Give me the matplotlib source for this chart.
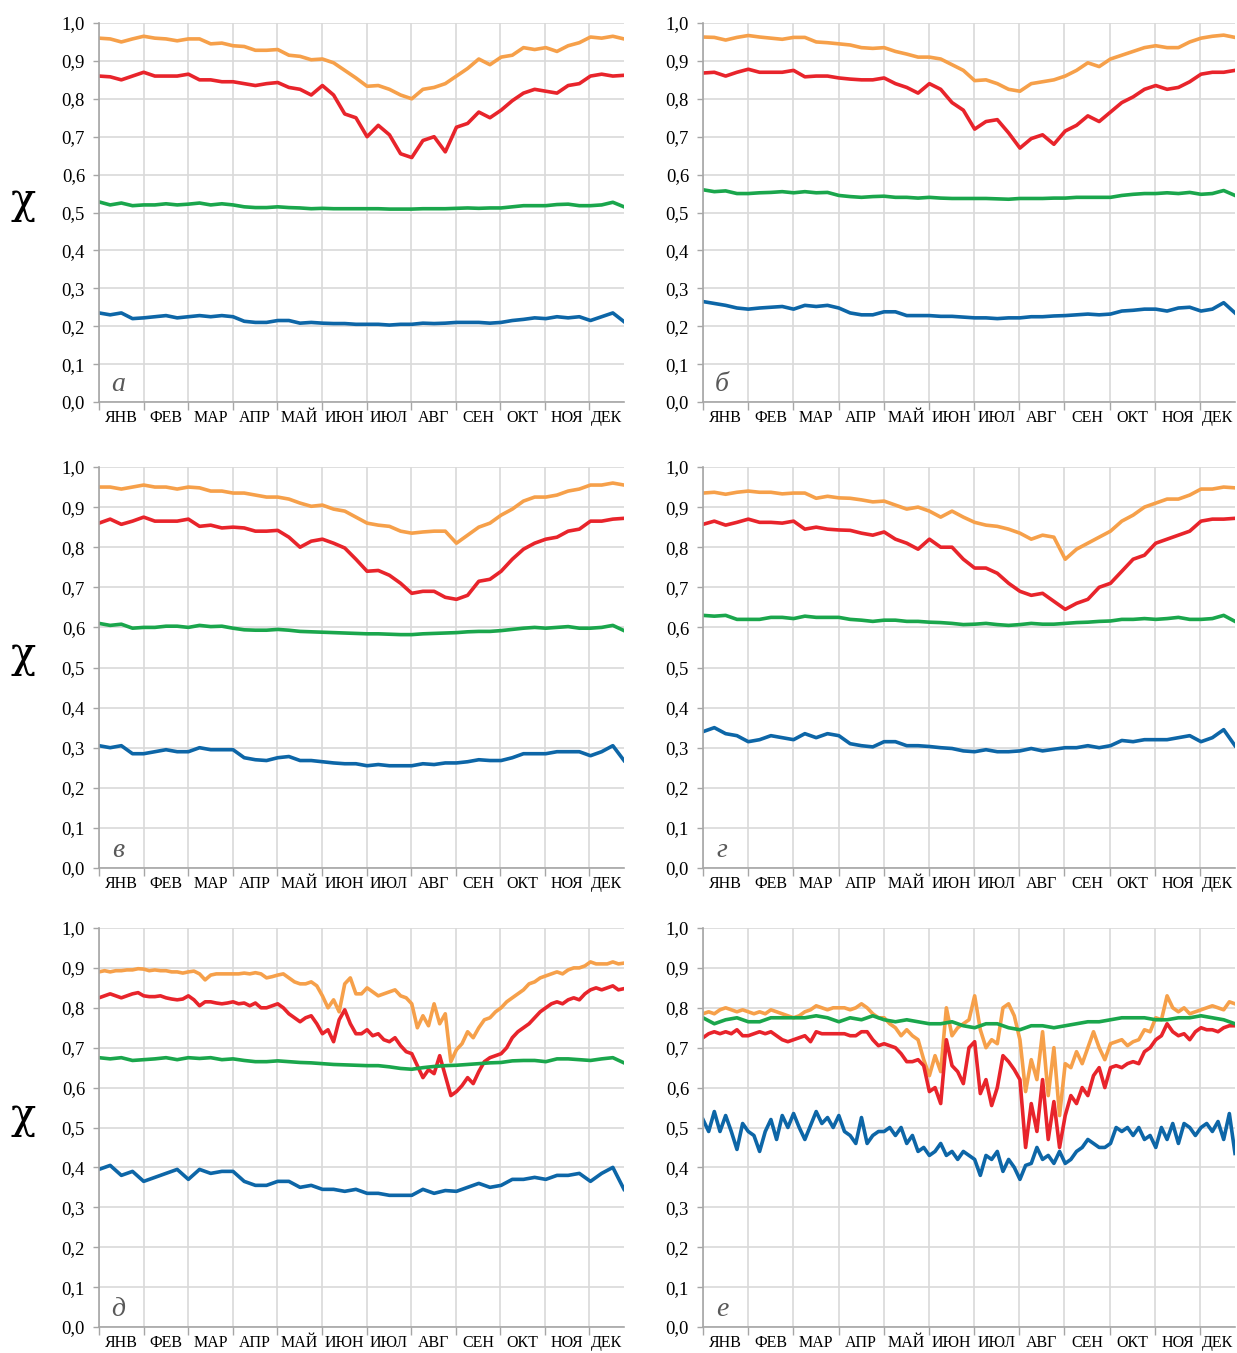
import numpy as np
import matplotlib
matplotlib.use("Agg")
import matplotlib.pyplot as plt
from matplotlib.ticker import FixedLocator, FuncFormatter

plt.rcParams["font.family"] = ["Liberation Serif", "DejaVu Serif"]

# month labels, 31-day steps as in the source chart
months = ["ЯНВ", "ФЕВ", "МАР", "АПР", "МАЙ", "ИЮН", "ИЮЛ", "АВГ", "СЕН", "ОКТ", "НОЯ", "ДЕК"]
year_len = 365

# --- panel а (4 values per month) ---
a_orange = [0.960, 0.958, 0.950, 0.958, 0.965, 0.960, 0.958, 0.953, 0.958, 0.958, 0.945, 0.947,
            0.940, 0.938, 0.928, 0.928, 0.930, 0.915, 0.912, 0.903, 0.905, 0.895, 0.875, 0.855,
            0.833, 0.835, 0.825, 0.810, 0.800, 0.825, 0.830, 0.840, 0.860, 0.880, 0.905, 0.890,
            0.910, 0.915, 0.935, 0.930, 0.935, 0.925, 0.940, 0.948, 0.963, 0.960, 0.965, 0.958]
a_red = [0.860, 0.858, 0.850, 0.860, 0.870, 0.860, 0.860, 0.860, 0.865, 0.850, 0.850, 0.845,
         0.845, 0.840, 0.835, 0.840, 0.843, 0.830, 0.825, 0.810, 0.835, 0.810, 0.760, 0.750,
         0.700, 0.730, 0.705, 0.655, 0.645, 0.690, 0.700, 0.660, 0.725, 0.735, 0.765, 0.750,
         0.770, 0.795, 0.815, 0.825, 0.820, 0.815, 0.835, 0.840, 0.860, 0.865, 0.860, 0.862]
a_green = [0.528, 0.520, 0.525, 0.518, 0.520, 0.520, 0.523, 0.520, 0.522, 0.525, 0.520, 0.523,
           0.520, 0.515, 0.513, 0.513, 0.515, 0.513, 0.512, 0.510, 0.511, 0.510, 0.510, 0.510,
           0.510, 0.510, 0.509, 0.509, 0.509, 0.510, 0.510, 0.510, 0.511, 0.512, 0.511, 0.512,
           0.512, 0.515, 0.518, 0.518, 0.518, 0.521, 0.522, 0.518, 0.518, 0.520, 0.527, 0.515]
a_blue = [0.235, 0.230, 0.235, 0.220, 0.222, 0.225, 0.228, 0.222, 0.225, 0.228, 0.225, 0.228,
          0.225, 0.213, 0.210, 0.210, 0.215, 0.215, 0.208, 0.210, 0.208, 0.207, 0.207, 0.205,
          0.205, 0.205, 0.203, 0.205, 0.205, 0.208, 0.207, 0.208, 0.210, 0.210, 0.210, 0.208,
          0.210, 0.215, 0.218, 0.222, 0.220, 0.225, 0.222, 0.225, 0.215, 0.225, 0.235, 0.212]

# --- panel б ---
b_orange = [0.963, 0.962, 0.955, 0.962, 0.967, 0.963, 0.960, 0.957, 0.962, 0.962, 0.950, 0.948,
            0.945, 0.942, 0.935, 0.933, 0.935, 0.925, 0.918, 0.910, 0.910, 0.905, 0.890, 0.875,
            0.848, 0.850, 0.840, 0.825, 0.820, 0.840, 0.845, 0.850, 0.860, 0.875, 0.895, 0.885,
            0.905, 0.915, 0.925, 0.935, 0.940, 0.935, 0.935, 0.950, 0.960, 0.965, 0.968, 0.962]
b_red = [0.868, 0.870, 0.860, 0.870, 0.878, 0.870, 0.870, 0.870, 0.875, 0.858, 0.860, 0.860,
         0.855, 0.852, 0.850, 0.850, 0.855, 0.840, 0.830, 0.815, 0.840, 0.825, 0.790, 0.770,
         0.720, 0.740, 0.745, 0.710, 0.670, 0.695, 0.705, 0.680, 0.715, 0.730, 0.755, 0.740,
         0.765, 0.790, 0.805, 0.825, 0.835, 0.825, 0.830, 0.845, 0.865, 0.870, 0.870, 0.875]
b_green = [0.560, 0.555, 0.557, 0.550, 0.550, 0.552, 0.553, 0.555, 0.552, 0.555, 0.552, 0.553,
           0.545, 0.542, 0.540, 0.542, 0.543, 0.540, 0.540, 0.538, 0.540, 0.538, 0.537, 0.537,
           0.537, 0.537, 0.536, 0.535, 0.537, 0.537, 0.537, 0.538, 0.538, 0.540, 0.540, 0.540,
           0.540, 0.545, 0.548, 0.550, 0.550, 0.552, 0.550, 0.553, 0.548, 0.550, 0.558, 0.545]
b_blue = [0.265, 0.260, 0.255, 0.248, 0.245, 0.248, 0.250, 0.252, 0.245, 0.255, 0.252, 0.255,
          0.248, 0.235, 0.230, 0.230, 0.238, 0.238, 0.228, 0.228, 0.228, 0.226, 0.226, 0.224,
          0.222, 0.222, 0.220, 0.222, 0.222, 0.225, 0.225, 0.227, 0.228, 0.230, 0.232, 0.230,
          0.232, 0.240, 0.242, 0.245, 0.245, 0.240, 0.248, 0.250, 0.240, 0.245, 0.262, 0.235]

# --- panel в ---
v_orange = [0.950, 0.950, 0.945, 0.950, 0.955, 0.950, 0.950, 0.945, 0.950, 0.948, 0.940, 0.940,
            0.935, 0.935, 0.930, 0.925, 0.925, 0.920, 0.910, 0.902, 0.905, 0.895, 0.890, 0.875,
            0.860, 0.855, 0.852, 0.840, 0.835, 0.838, 0.840, 0.840, 0.810, 0.830, 0.850, 0.860,
            0.880, 0.895, 0.915, 0.925, 0.925, 0.930, 0.940, 0.945, 0.955, 0.955, 0.960, 0.955]
v_red = [0.860, 0.870, 0.857, 0.865, 0.875, 0.865, 0.865, 0.865, 0.870, 0.852, 0.855, 0.848,
         0.850, 0.848, 0.840, 0.840, 0.842, 0.825, 0.800, 0.815, 0.820, 0.810, 0.798, 0.770,
         0.740, 0.742, 0.730, 0.710, 0.685, 0.690, 0.690, 0.675, 0.670, 0.680, 0.715, 0.720,
         0.740, 0.770, 0.795, 0.810, 0.820, 0.825, 0.840, 0.845, 0.865, 0.865, 0.870, 0.872]
v_green = [0.610, 0.605, 0.608, 0.598, 0.600, 0.600, 0.603, 0.603, 0.600, 0.605, 0.602, 0.603,
           0.598, 0.594, 0.593, 0.593, 0.595, 0.593, 0.590, 0.589, 0.588, 0.587, 0.586, 0.585,
           0.584, 0.584, 0.583, 0.582, 0.582, 0.584, 0.585, 0.586, 0.587, 0.589, 0.590, 0.590,
           0.592, 0.595, 0.598, 0.600, 0.598, 0.600, 0.602, 0.598, 0.598, 0.600, 0.605, 0.592]
v_blue = [0.305, 0.300, 0.305, 0.285, 0.285, 0.290, 0.295, 0.290, 0.290, 0.300, 0.295, 0.295,
          0.295, 0.275, 0.270, 0.268, 0.275, 0.278, 0.268, 0.268, 0.265, 0.262, 0.260, 0.260,
          0.255, 0.258, 0.255, 0.255, 0.255, 0.260, 0.258, 0.262, 0.262, 0.265, 0.270, 0.268,
          0.268, 0.275, 0.285, 0.285, 0.285, 0.290, 0.290, 0.290, 0.280, 0.290, 0.305, 0.268]

# --- panel г ---
g_orange = [0.935, 0.937, 0.932, 0.937, 0.940, 0.937, 0.937, 0.933, 0.935, 0.935, 0.922, 0.927,
            0.923, 0.922, 0.918, 0.913, 0.915, 0.905, 0.895, 0.900, 0.890, 0.875, 0.890, 0.875,
            0.862, 0.855, 0.852, 0.845, 0.835, 0.820, 0.830, 0.825, 0.770, 0.795, 0.810, 0.825,
            0.840, 0.865, 0.880, 0.900, 0.910, 0.920, 0.920, 0.930, 0.945, 0.945, 0.950, 0.948]
g_red = [0.857, 0.865, 0.855, 0.862, 0.870, 0.862, 0.862, 0.860, 0.865, 0.845, 0.850, 0.845,
         0.843, 0.842, 0.835, 0.830, 0.838, 0.820, 0.810, 0.795, 0.820, 0.800, 0.800, 0.770,
         0.748, 0.748, 0.735, 0.710, 0.690, 0.680, 0.685, 0.665, 0.645, 0.660, 0.670, 0.700,
         0.710, 0.740, 0.770, 0.780, 0.810, 0.820, 0.830, 0.840, 0.865, 0.870, 0.870, 0.872]
g_green = [0.630, 0.628, 0.630, 0.620, 0.620, 0.620, 0.625, 0.625, 0.622, 0.628, 0.625, 0.625,
           0.625, 0.620, 0.618, 0.615, 0.618, 0.618, 0.615, 0.615, 0.613, 0.612, 0.610, 0.607,
           0.608, 0.610, 0.607, 0.605, 0.607, 0.610, 0.608, 0.608, 0.610, 0.612, 0.613, 0.615,
           0.616, 0.620, 0.620, 0.622, 0.620, 0.622, 0.625, 0.620, 0.620, 0.622, 0.630, 0.615]
g_blue = [0.340, 0.350, 0.335, 0.330, 0.315, 0.320, 0.330, 0.325, 0.320, 0.335, 0.325, 0.335,
          0.330, 0.310, 0.305, 0.302, 0.315, 0.315, 0.305, 0.305, 0.303, 0.300, 0.298, 0.292,
          0.290, 0.295, 0.290, 0.290, 0.292, 0.298, 0.292, 0.296, 0.300, 0.300, 0.305, 0.300,
          0.305, 0.318, 0.315, 0.320, 0.320, 0.320, 0.325, 0.330, 0.315, 0.325, 0.345, 0.305]

# --- panel д (orange/red: 8 values per month) ---
d_orange = [0.890, 0.893, 0.890, 0.893, 0.893, 0.895, 0.895, 0.898,
            0.897, 0.893, 0.895, 0.893, 0.893, 0.890, 0.890, 0.887,
            0.890, 0.892, 0.885, 0.870, 0.882, 0.885, 0.885, 0.885,
            0.885, 0.885, 0.887, 0.885, 0.888, 0.885, 0.875, 0.878,
            0.882, 0.885, 0.875, 0.865, 0.860, 0.860, 0.865, 0.855,
            0.830, 0.800, 0.820, 0.790, 0.860, 0.875, 0.835, 0.835,
            0.850, 0.840, 0.830, 0.835, 0.840, 0.845, 0.830, 0.825,
            0.810, 0.750, 0.780, 0.755, 0.810, 0.760, 0.785, 0.665,
            0.695, 0.710, 0.740, 0.725, 0.750, 0.770, 0.775, 0.790,
            0.800, 0.815, 0.825, 0.835, 0.845, 0.860, 0.865, 0.875,
            0.880, 0.885, 0.890, 0.885, 0.895, 0.900, 0.900, 0.905,
            0.915, 0.910, 0.910, 0.910, 0.915, 0.910, 0.912]
d_red = [0.825, 0.830, 0.835, 0.830, 0.825, 0.830, 0.835, 0.838,
         0.830, 0.828, 0.828, 0.830, 0.825, 0.822, 0.820, 0.822,
         0.830, 0.820, 0.805, 0.815, 0.815, 0.812, 0.810, 0.812,
         0.815, 0.810, 0.812, 0.805, 0.812, 0.800, 0.800, 0.805,
         0.810, 0.800, 0.785, 0.775, 0.765, 0.775, 0.780, 0.760,
         0.735, 0.745, 0.715, 0.770, 0.795, 0.760, 0.735, 0.735,
         0.745, 0.730, 0.735, 0.720, 0.715, 0.725, 0.705, 0.690,
         0.685, 0.655, 0.625, 0.645, 0.635, 0.680, 0.630, 0.580,
         0.590, 0.605, 0.625, 0.610, 0.640, 0.665, 0.675, 0.680,
         0.685, 0.700, 0.725, 0.740, 0.750, 0.760, 0.775, 0.790,
         0.800, 0.810, 0.815, 0.810, 0.820, 0.825, 0.820, 0.835,
         0.845, 0.850, 0.845, 0.850, 0.855, 0.845, 0.848]
d_green = [0.675, 0.672, 0.675, 0.668, 0.670, 0.672, 0.675, 0.670, 0.675, 0.673, 0.675, 0.670,
           0.672, 0.668, 0.665, 0.665, 0.667, 0.665, 0.663, 0.662, 0.660, 0.658, 0.657, 0.656,
           0.655, 0.655, 0.652, 0.648, 0.646, 0.650, 0.653, 0.655, 0.656, 0.658, 0.660, 0.662,
           0.663, 0.667, 0.668, 0.668, 0.665, 0.672, 0.672, 0.670, 0.668, 0.672, 0.675, 0.662]
d_blue = [0.395, 0.405, 0.380, 0.390, 0.365, 0.375, 0.385, 0.395, 0.370, 0.395, 0.385, 0.390,
          0.390, 0.365, 0.355, 0.355, 0.365, 0.365, 0.350, 0.355, 0.345, 0.345, 0.340, 0.345,
          0.335, 0.335, 0.330, 0.330, 0.330, 0.345, 0.335, 0.342, 0.340, 0.350, 0.360, 0.350,
          0.355, 0.370, 0.370, 0.375, 0.370, 0.380, 0.380, 0.385, 0.365, 0.385, 0.400, 0.345]

# --- panel е (orange/red/blue: 8 values per month) ---
e_orange = [0.785, 0.790, 0.785, 0.795, 0.800, 0.795, 0.790, 0.795,
            0.790, 0.785, 0.790, 0.785, 0.795, 0.790, 0.785, 0.780,
            0.775, 0.780, 0.790, 0.795, 0.805, 0.800, 0.795, 0.800,
            0.800, 0.800, 0.795, 0.800, 0.810, 0.800, 0.785, 0.775,
            0.775, 0.760, 0.750, 0.730, 0.745, 0.730, 0.720, 0.670,
            0.630, 0.680, 0.640, 0.800, 0.730, 0.750, 0.760, 0.770,
            0.830, 0.745, 0.700, 0.720, 0.710, 0.800, 0.810, 0.780,
            0.720, 0.590, 0.670, 0.620, 0.740, 0.580, 0.700, 0.530,
            0.660, 0.650, 0.690, 0.660, 0.700, 0.740, 0.700, 0.670,
            0.710, 0.715, 0.720, 0.705, 0.715, 0.720, 0.745, 0.740,
            0.775, 0.770, 0.830, 0.800, 0.790, 0.800, 0.785, 0.790,
            0.795, 0.800, 0.805, 0.800, 0.795, 0.815, 0.810]
e_red = [0.725, 0.735, 0.740, 0.735, 0.740, 0.735, 0.745, 0.730,
         0.730, 0.735, 0.740, 0.735, 0.740, 0.730, 0.720, 0.715,
         0.720, 0.725, 0.730, 0.715, 0.740, 0.735, 0.735, 0.735,
         0.735, 0.735, 0.730, 0.730, 0.740, 0.740, 0.720, 0.705,
         0.710, 0.705, 0.700, 0.685, 0.665, 0.665, 0.670, 0.655,
         0.590, 0.600, 0.560, 0.720, 0.655, 0.640, 0.610, 0.700,
         0.715, 0.585, 0.620, 0.555, 0.600, 0.680, 0.665, 0.645,
         0.620, 0.450, 0.560, 0.490, 0.620, 0.470, 0.565, 0.450,
         0.530, 0.580, 0.560, 0.600, 0.580, 0.630, 0.650, 0.600,
         0.650, 0.655, 0.650, 0.660, 0.665, 0.660, 0.690, 0.700,
         0.720, 0.730, 0.760, 0.740, 0.730, 0.735, 0.720, 0.740,
         0.750, 0.745, 0.745, 0.740, 0.750, 0.755, 0.755]
e_green = [0.775, 0.760, 0.770, 0.775, 0.765, 0.765, 0.775, 0.775, 0.775, 0.775, 0.780, 0.775,
           0.765, 0.775, 0.770, 0.780, 0.770, 0.765, 0.770, 0.765, 0.760, 0.760, 0.765, 0.755,
           0.750, 0.760, 0.760, 0.750, 0.745, 0.755, 0.755, 0.750, 0.755, 0.760, 0.765, 0.765,
           0.770, 0.775, 0.775, 0.775, 0.770, 0.770, 0.775, 0.775, 0.780, 0.775, 0.770, 0.760]
e_blue = [0.520, 0.490, 0.540, 0.490, 0.530, 0.490, 0.445, 0.510,
          0.490, 0.480, 0.440, 0.490, 0.520, 0.470, 0.530, 0.500,
          0.535, 0.500, 0.470, 0.505, 0.540, 0.510, 0.525, 0.500,
          0.530, 0.490, 0.480, 0.460, 0.525, 0.460, 0.480, 0.490,
          0.490, 0.500, 0.480, 0.500, 0.460, 0.480, 0.440, 0.450,
          0.430, 0.440, 0.460, 0.430, 0.440, 0.420, 0.440, 0.430,
          0.420, 0.380, 0.430, 0.420, 0.440, 0.390, 0.420, 0.400,
          0.370, 0.405, 0.410, 0.450, 0.420, 0.430, 0.410, 0.440,
          0.410, 0.420, 0.440, 0.450, 0.470, 0.460, 0.450, 0.450,
          0.460, 0.500, 0.490, 0.500, 0.480, 0.500, 0.470, 0.480,
          0.450, 0.500, 0.470, 0.510, 0.460, 0.510, 0.500, 0.480,
          0.500, 0.510, 0.490, 0.515, 0.470, 0.535, 0.435]

ORANGE = "#F6A04A"
RED = "#E8242B"
GREEN = "#1AA64C"
BLUE = "#0D66A7"
GRID = "#D9D9D9"
AXIS = "#A6A6A6"

panels = [
    ("а", [a_orange, a_red, a_green, a_blue]),
    ("б", [b_orange, b_red, b_green, b_blue]),
    ("в", [v_orange, v_red, v_green, v_blue]),
    ("г", [g_orange, g_red, g_green, g_blue]),
    ("д", [d_orange, d_red, d_green, d_blue]),
    ("е", [e_orange, e_red, e_green, e_blue]),
]
colors = [ORANGE, RED, GREEN, BLUE]

W, H = 1237, 1353
col_px = [(99, 525), (703, 532)]
row_px = [(23, 379), (467, 401), (928, 399)]

month_edges = list(range(0, year_len, 31))
month_mids = [(s + e) / 2 for s, e in zip(month_edges, month_edges[1:] + [year_len])]

fig = plt.figure(figsize=(W / 100, H / 100), dpi=100)


def draw_panel(ax, letter, series):
    for vals, c in zip(series, colors):
        x = np.linspace(0, year_len, len(vals))
        ax.plot(x, vals, color=c, lw=2.6, solid_joinstyle="round")

    ax.set_xlim(0, year_len)
    ax.set_ylim(0, 1.0)
    ax.set_axisbelow(True)

    ax.xaxis.set_major_locator(FixedLocator(month_edges))
    ax.xaxis.set_minor_locator(FixedLocator(month_mids))
    ax.set_xticklabels([], minor=False)
    ax.set_xticklabels(months, minor=True)
    ax.tick_params(axis="x", which="major", length=6, width=1, color=AXIS)
    ax.tick_params(axis="x", which="minor", length=0, pad=6, labelsize=11.5)

    ax.set_yticks(np.arange(0, 1.01, 0.1))
    ax.yaxis.set_major_formatter(FuncFormatter(lambda v, p: f"{v:.1f}".replace(".", ",")))
    ax.tick_params(axis="y", length=4, width=1, color=AXIS, labelsize=13.5, pad=6)

    ax.grid(True, axis="x", which="major", color=GRID, lw=1.2)
    ax.grid(True, axis="y", color=GRID, lw=1.2)
    for side in ["top", "right"]:
        ax.spines[side].set_visible(False)
    for side in ["left", "bottom"]:
        ax.spines[side].set_color(AXIS)
        ax.spines[side].set_linewidth(1.2)

    ax.text(13, 0.028, letter, fontstyle="italic", fontsize=20,
            color="#595959", ha="center", va="baseline")


for i, (letter, series) in enumerate(panels):
    r, c = divmod(i, 2)
    left, width = col_px[c]
    top, height = row_px[r]
    ax = fig.add_axes([left / W, 1 - (top + height) / H, width / W, height / H])
    draw_panel(ax, letter, series)
    if c == 0:
        fig.text(23 / W, 1 - (top + height * 0.47) / H, "χ", family=["DejaVu Serif"],
                 fontsize=30, ha="center", va="center")

fig.savefig("out.png", dpi=100)
